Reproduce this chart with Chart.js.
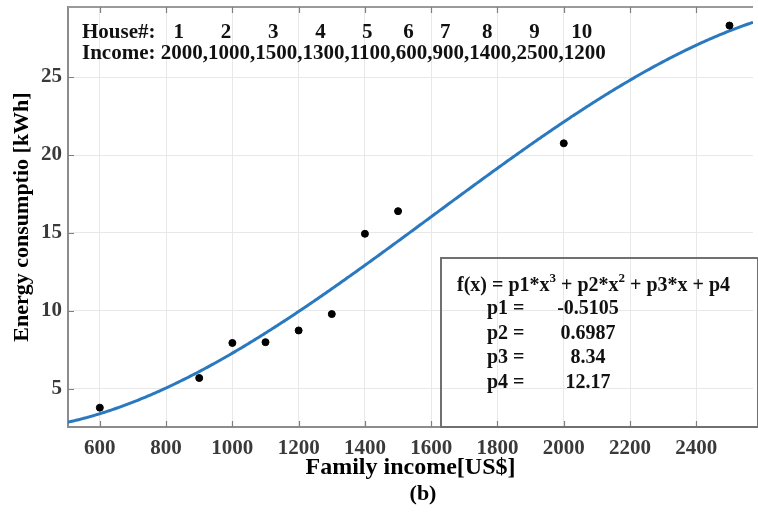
<!DOCTYPE html>
<html>
<head>
<meta charset="utf-8">
<title>Energy consumption vs family income</title>
<script src="https://cdn.jsdelivr.net/npm/chart.js@4.4.1/dist/chart.umd.min.js"></script>
<style>
  html, body { margin: 0; padding: 0; background: #ffffff; overflow: hidden; }
  #wrap { width: 758px; height: 515px; position: relative; }
</style>
</head>
<body>
<div id="wrap"><canvas id="chart" width="758" height="515"></canvas></div>
<script>
// Survey data: monthly family income and measured energy use per house
const houseNumbers = [1, 2, 3, 4, 5, 6, 7, 8, 9, 10];
const houseIncomes = [2000, 1000, 1500, 1300, 1100, 600, 900, 1400, 2500, 1200];

// Measured points, sorted by income
const incomes = [600, 900, 1000, 1100, 1200, 1300, 1400, 1500, 2000, 2500];
const energyKWh = [3.8, 5.7, 7.95, 8.0, 8.75, 9.8, 14.95, 16.4, 20.75, 28.3];

// Cubic fit coefficients (fit on centred and scaled income)
const fitLabels = ['p1', 'p2', 'p3', 'p4'];
const fitCoeffs = [-0.5105, 0.6987, 8.34, 12.17];
const fitCoeffText = ['-0.5105', '0.6987', '8.34', '12.17'];

// Axis ticks
const xTicks = [600, 800, 1000, 1200, 1400, 1600, 1800, 2000, 2200, 2400];
const yTicks = [5, 10, 15, 20, 25];

const X_MIN = 504, X_MAX = 2571, Y_MIN = 2.56, Y_MAX = 29.49;
const SERIF = '"Liberation Serif", "Times New Roman", serif';

// Fitted curve: f(z) = p1 z^3 + p2 z^2 + p3 z + p4, z = (x - mean) / std
const mean = incomes.reduce((a, b) => a + b, 0) / incomes.length;
const std = Math.sqrt(incomes.reduce((a, b) => a + (b - mean) ** 2, 0) / (incomes.length - 1));
function fitValue(x) {
  const z = (x - mean) / std;
  const [p1, p2, p3, p4] = fitCoeffs;
  return p1 * z ** 3 + p2 * z ** 2 + p3 * z + p4;
}
const curve = [];
for (let x = X_MIN; x <= X_MAX; x += 4) curve.push({ x: x, y: fitValue(x) });
curve.push({ x: X_MAX, y: fitValue(X_MAX) });

// Text annotations, frame and inward tick marks
const decorations = {
  id: 'decorations',
  afterDraw(chart) {
    const { ctx, chartArea: a, scales } = chart;
    ctx.save();

    // top frame line
    ctx.strokeStyle = '#9a9a9a';
    ctx.lineWidth = 2;
    ctx.beginPath();
    ctx.moveTo(a.left, a.top);
    ctx.lineTo(a.right, a.top);
    ctx.stroke();

    // inward tick marks
    ctx.strokeStyle = '#808080';
    ctx.lineWidth = 1.2;
    ctx.beginPath();
    xTicks.forEach(v => {
      const px = Math.round(scales.x.getPixelForValue(v)) + 0.5;
      ctx.moveTo(px, a.bottom); ctx.lineTo(px, a.bottom - 6);
      ctx.moveTo(px, a.top); ctx.lineTo(px, a.top + 6);
    });
    yTicks.forEach(v => {
      const py = Math.round(scales.y.getPixelForValue(v)) + 0.5;
      ctx.moveTo(a.left, py); ctx.lineTo(a.left + 6, py);
    });
    ctx.stroke();

    // header: house numbers above their incomes
    ctx.fillStyle = '#111';
    ctx.font = 'bold 21px ' + SERIF;
    ctx.textBaseline = 'alphabetic';
    ctx.textAlign = 'left';
    const x0 = 82;
    ctx.fillText('House#:', x0, 38);
    const prefix = 'Income: ';
    const incomeLine = prefix + houseIncomes.join(',');
    ctx.fillText(incomeLine, x0, 59);
    let cursor = x0 + ctx.measureText(prefix).width;
    ctx.textAlign = 'center';
    houseIncomes.forEach((inc, i) => {
      const w = ctx.measureText(String(inc)).width;
      ctx.fillText(String(houseNumbers[i]), cursor + w / 2 - 3, 38);
      cursor += w + ctx.measureText(',').width;
    });

    // fit result box
    const bx = 441, by = 258;
    ctx.strokeStyle = '#707070';
    ctx.lineWidth = 2;
    ctx.strokeRect(bx, by, a.right - bx + 5, a.bottom - by);

    ctx.textAlign = 'left';
    ctx.font = 'bold 20px ' + SERIF;
    const parts = [
      ['f(x) = p1*x', false], ['3', true], [' + p2*x', false], ['2', true], [' + p3*x + p4', false]
    ];
    let fx = 457;
    parts.forEach(([t, sup]) => {
      ctx.font = (sup ? 'bold 13px ' : 'bold 20px ') + SERIF;
      ctx.fillText(t, fx, sup ? 282 : 291);
      fx += ctx.measureText(t).width;
    });
    ctx.font = 'bold 20px ' + SERIF;
    fitLabels.forEach((lab, i) => {
      const y = 314 + i * 24.5;
      ctx.textAlign = 'left';
      ctx.fillText(lab + ' =', 487, y);
      ctx.textAlign = 'center';
      ctx.fillText(fitCoeffText[i], 588, y);
    });

    // panel label
    ctx.font = 'bold 22px ' + SERIF;
    ctx.textAlign = 'center';
    ctx.fillStyle = '#000';
    ctx.fillText('(b)', 423, 500);
    ctx.restore();
  }
};

new Chart(document.getElementById('chart'), {
  type: 'scatter',
  data: {
    datasets: [
      {
        label: 'fit',
        data: curve,
        showLine: true,
        borderColor: '#2a79c0',
        borderWidth: 3,
        pointRadius: 0,
        tension: 0,
        order: 2
      },
      {
        label: 'data',
        data: incomes.map((x, i) => ({ x: x, y: energyKWh[i] })),
        backgroundColor: '#000',
        borderColor: '#000',
        pointRadius: 3.5,
        showLine: false,
        order: 1
      }
    ]
  },
  options: {
    responsive: false,
    animation: false,
    devicePixelRatio: 1,
    layout: { padding: { top: 7, left: 0, right: 0, bottom: 0 } },
    plugins: { legend: { display: false }, tooltip: { enabled: false } },
    scales: {
      x: {
        type: 'linear',
        min: X_MIN,
        max: X_MAX,
        afterFit: s => { s.height = 88; s.paddingLeft = 0; s.paddingRight = 0; },
        afterBuildTicks: s => { s.ticks = xTicks.map(v => ({ value: v })); },
        ticks: {
          includeBounds: false,
          padding: 9,
          color: '#3a3a3a',
          font: { family: SERIF, size: 21, weight: 'bold' },
          maxRotation: 0,
          autoSkip: false,
          callback: v => String(v)
        },
        grid: { color: '#e8e8e8', lineWidth: 1, drawTicks: false },
        border: { color: '#8c8c8c', width: 2 },
        title: {
          display: true,
          text: 'Family income[US$]',
          color: '#000',
          font: { family: SERIF, size: 24, weight: 'bold' },
          padding: { top: 0, bottom: 33 }
        }
      },
      y: {
        type: 'linear',
        min: Y_MIN,
        max: Y_MAX,
        afterFit: s => { s.width = 68; s.paddingTop = 0; s.paddingBottom = 0; },
        afterBuildTicks: s => { s.ticks = yTicks.map(v => ({ value: v })); },
        ticks: {
          includeBounds: false,
          padding: 6,
          color: '#3a3a3a',
          font: { family: SERIF, size: 21, weight: 'bold' },
          callback: v => String(v)
        },
        grid: { color: '#e8e8e8', lineWidth: 1, drawTicks: false },
        border: { color: '#8c8c8c', width: 2 },
        title: {
          display: true,
          text: 'Energy consumptio [kWh]',
          color: '#000',
          font: { family: SERIF, size: 22, weight: 'bold' },
          padding: { top: 9, bottom: 0 }
        }
      }
    }
  },
  plugins: [decorations]
});
</script>
</body>
</html>
